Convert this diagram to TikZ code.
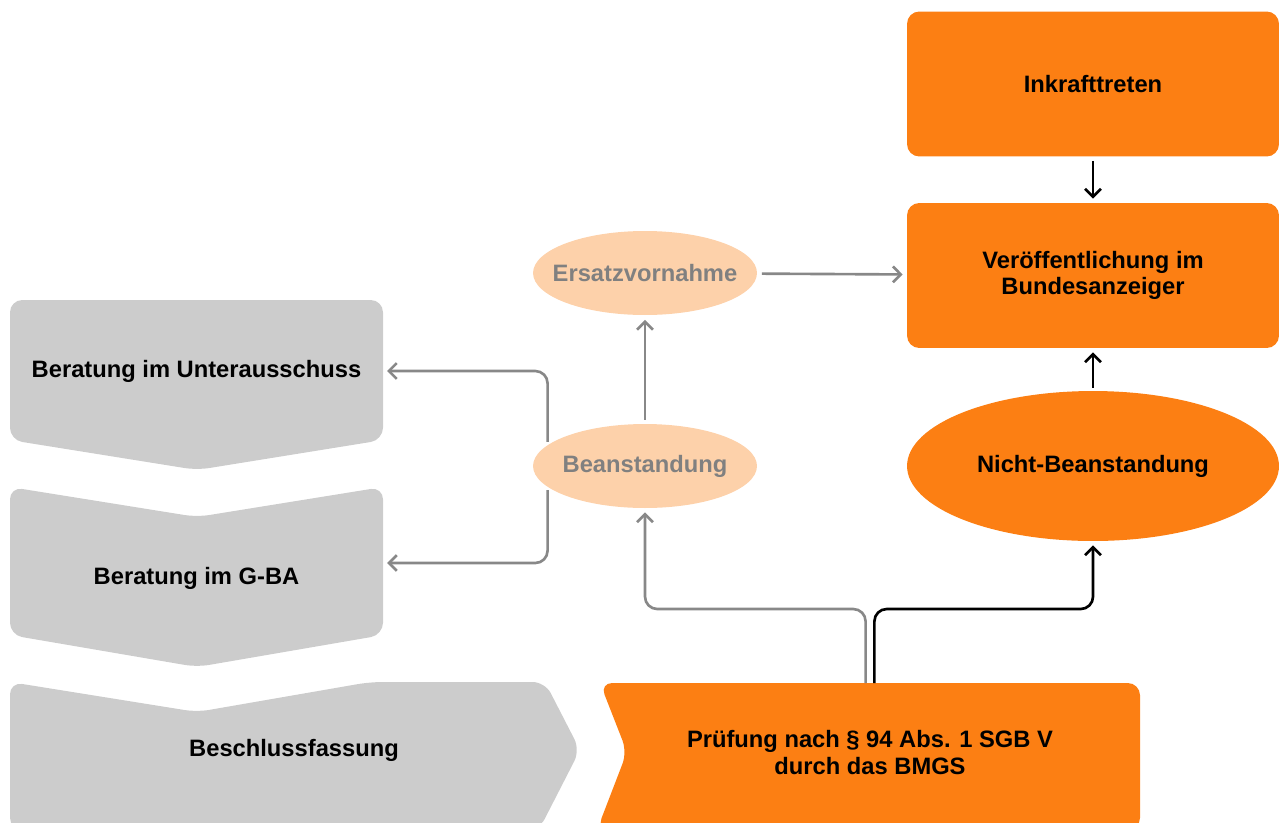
\documentclass[tikz,border=0pt]{standalone}
\usepackage{fontspec}
\setmainfont{Liberation Sans}
\usetikzlibrary{shapes.geometric,arrows.meta}
\definecolor{gbaorange}{RGB}{252,127,19}
\definecolor{gbapeach}{RGB}{253,209,170}
\definecolor{gbagrey}{RGB}{204,204,204}
\definecolor{gbaline}{RGB}{136,136,136}
\definecolor{gbatext}{RGB}{128,128,128}

\begin{document}
\begin{tikzpicture}[
        x=0.02cm,y=-0.02cm,
        every node/.style={font=\fontsize{13.5}{15}\selectfont\bfseries,align=center,inner sep=0pt,outer sep=0pt},
        stage/.style={minimum width=7.46cm,minimum height=2.8cm},
        orangebox/.style={fill=gbaorange,rounded corners=7pt,minimum width=7.44cm,minimum height=2.9cm},
        peachoval/.style={ellipse,fill=gbapeach,text=gbatext,inner xsep=-9pt,minimum width=4.48cm,minimum height=1.68cm},
        bigoval/.style={ellipse,fill=gbaorange,inner xsep=-10pt,minimum width=7.44cm,minimum height=3cm},
        greyline/.style={draw=gbaline,line width=1.5pt,rounded corners=7pt,->},
        blackline/.style={draw=black,line width=1.5pt,rounded corners=7pt,->},
        >={Straight Barb[length=4.5pt,width=9pt]}
    ]
        \useasboundingbox (0,0) rectangle (1280,822);
        \clip (0,0) rectangle (1280,822);

        % grey stages on the left
        \fill[gbagrey,rounded corners=7pt] (10,300) -- (383,300) -- (383,440) -- (197,470) -- (10,440) -- cycle;
        \fill[gbagrey,rounded corners=7pt] (10,487) -- (197,517) -- (383,487) -- (383,635) -- (197,667) -- (10,635) -- cycle;
        \fill[gbagrey,rounded corners=7pt] (10,682) -- (197,712) -- (370,682) -- (545,682) -- (580,750) -- (539,830) -- (10,830) -- cycle;
        % orange check step
        \fill[gbaorange,rounded corners=7pt] (600,683) -- (1140,683) -- (1140,830) -- (597,830) -- (627,752) -- cycle;

        \node[stage] (ua) at (196.5,371) {Beratung im Unterausschuss};
        \node[stage] (gba) at (196.5,578) {Beratung im G-BA};
        \node (bf) at (294,750) {Beschlussfassung};
        \node[minimum width=10.8cm,minimum height=2.78cm] (pr) at (870,752.5) {Prüfung nach § 94 Abs. 1 SGB V\\durch das BMGS};
        \coordinate (gbain) at (383,563);

        \node[orangebox] (ink) at (1093,84) {Inkrafttreten};
        \node[orangebox] (ver) at (1093,275.5) {Veröffentlichung im\\Bundesanzeiger};
        \node[bigoval] (nb) at (1093,466) {Nicht-Beanstandung};
        \node[peachoval] (ers) at (645,273) {Ersatzvornahme};
        \node[peachoval] (bean) at (645,466) {Beanstandung};

        \draw[blackline,shorten >=2.5pt,shorten <=2.5pt] (ink) -- (ver);
        \draw[blackline,shorten >=2.5pt,shorten <=2pt] (nb) -- (ver);
        \draw[greyline,shorten >=2.5pt,shorten <=2.8pt] (ers) -- (ver);
        \draw[greyline,shorten >=2.8pt,shorten <=2.5pt] (bean) -- (ers);
        \draw[greyline,shorten >=2.3pt,shorten <=2pt] (bean.168) |- (ua.east);
        \draw[greyline,shorten >=2.3pt,shorten <=2pt] (bean.192) |- (gbain);
        \draw[greyline,shorten >=2.5pt] ([xshift=-2.5pt]pr.north) -- ++(0,-74) -| (bean);
        \draw[blackline,shorten >=2.5pt] ([xshift=2.5pt]pr.north) -- ++(0,-74) -| (nb);
    \end{tikzpicture}
\end{document}
